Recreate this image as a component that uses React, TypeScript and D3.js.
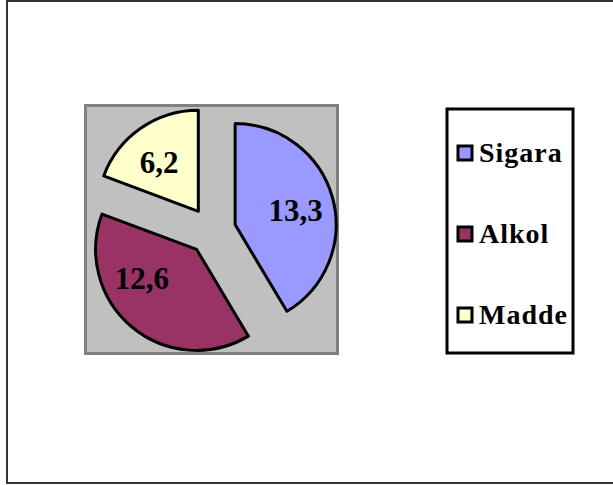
import React from "react";
import * as d3 from "d3";

const categories = ["Sigara", "Alkol", "Madde"];
const values = [13.3, 12.6, 6.2];
const valueLabels = ["13,3", "12,6", "6,2"];
const colors = ["#9999FF", "#993366", "#FFFFCC"];

const W = 613;
const H = 485;

export default function App() {
  const cx = 212;
  const cy = 231;
  const r = 101;
  const explode = 24;
  const labelR = 62;
  const labelNudge = [2.8, 22, -4.4]; // degrees, layout tweak

  const pie = d3.pie<number>().sort(null).startAngle(0).endAngle(2 * Math.PI);
  const arcs = pie(values);
  const arcGen = d3.arc<d3.PieArcDatum<number>>().innerRadius(0).outerRadius(r);

  const legendY = d3.scalePoint<string>().domain(categories).range([153, 315]);
  const font = "'Liberation Serif', 'Times New Roman', serif";

  return (
    <svg width={W} height={H} style={{ position: "absolute", left: 0, top: 0 }}>
      <rect x={0} y={0} width={W} height={H} fill="#fff" />
      <rect x={7} y={1} width={640} height={482} fill="#fff" stroke="#333" strokeWidth={2} />
      <rect x={85.5} y={105.5} width={252} height={248} fill="#C0C0C0" stroke="#808080" strokeWidth={3} />
      {arcs.map((a, i) => {
        const mid = (a.startAngle + a.endAngle) / 2;
        const vx = cx + explode * Math.sin(mid);
        const vy = cy - explode * Math.cos(mid);
        const la = mid + (labelNudge[i] * Math.PI) / 180;
        const lx = vx + labelR * Math.sin(la);
        const ly = vy - labelR * Math.cos(la);
        return (
          <g key={categories[i]}>
            <path
              d={arcGen(a) || ""}
              transform={`translate(${vx},${vy})`}
              fill={colors[i]}
              stroke="#000"
              strokeWidth={3}
              strokeLinejoin="round"
            />
            <text
              x={lx}
              y={ly + 10}
              textAnchor="middle"
              fontFamily={font}
              fontWeight="bold"
              fontSize={31}
              fill="#000"
            >
              {valueLabels[i]}
            </text>
          </g>
        );
      })}
      <rect x={447} y={109} width={126} height={244} fill="#fff" stroke="#000" strokeWidth={3} />
      {categories.map((c, i) => {
        const y = legendY(c) as number;
        return (
          <g key={c}>
            <rect x={458} y={y - 7} width={14} height={14} fill={colors[i]} stroke="#000" strokeWidth={3} />
            <text
              x={479}
              y={y + 9}
              fontFamily={font}
              fontWeight="bold"
              fontSize={28}
              letterSpacing={1}
              fill="#000"
            >
              {c}
            </text>
          </g>
        );
      })}
    </svg>
  );
}
